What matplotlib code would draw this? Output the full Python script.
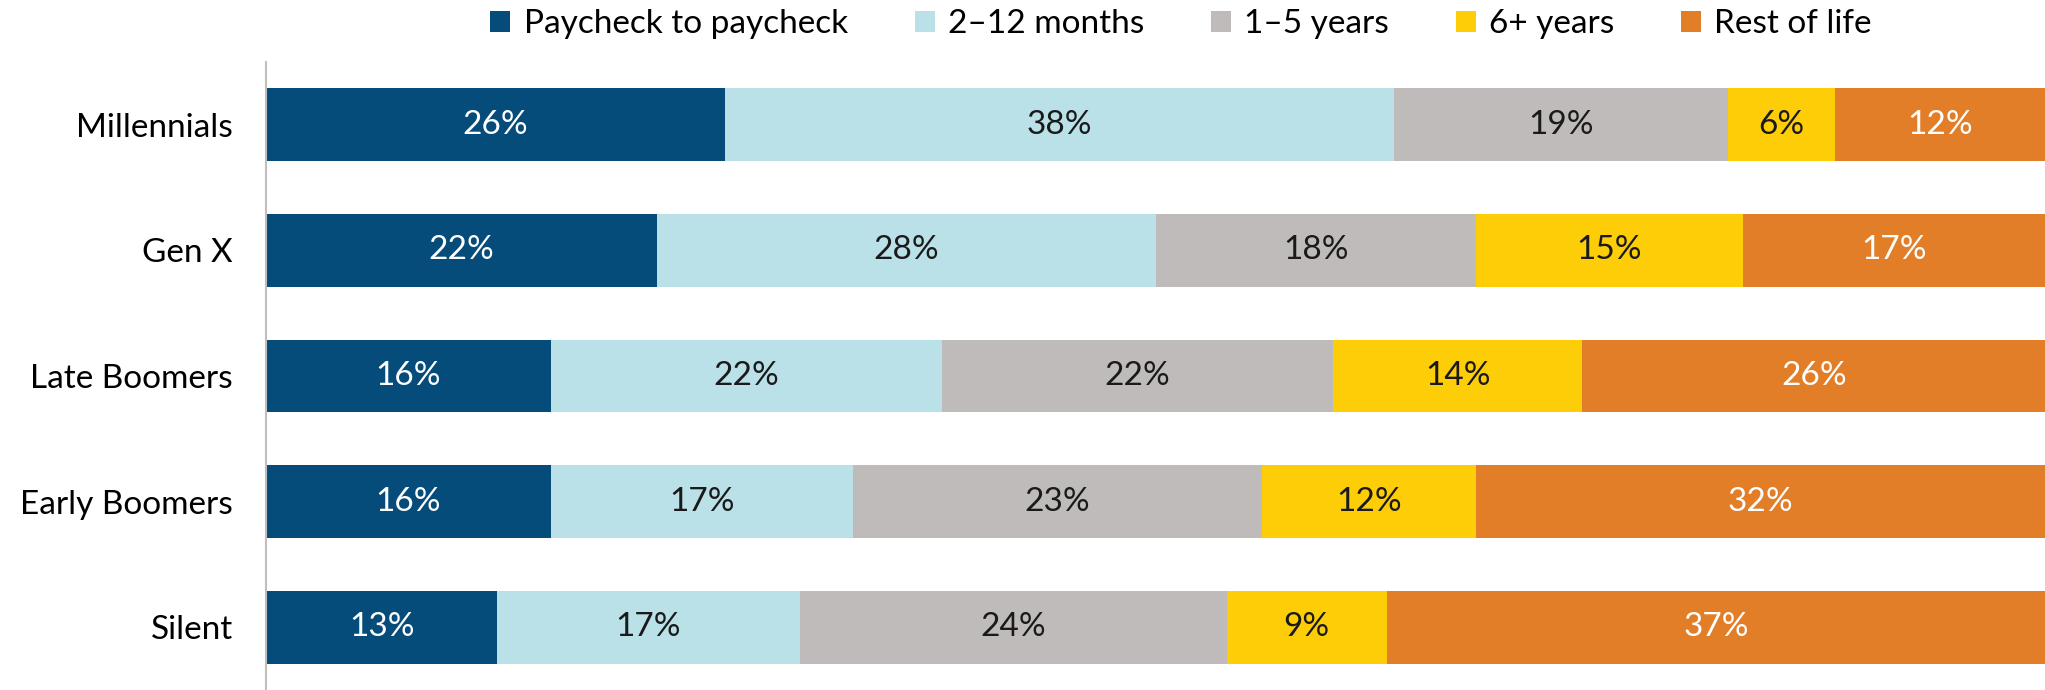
import numpy as np
import matplotlib.pyplot as plt

plt.rcParams['font.family'] = ['Lato', 'DejaVu Sans']

groups = ["Millennials", "Gen X", "Late Boomers", "Early Boomers", "Silent"]
series = ["Paycheck to paycheck", "2\u201312 months", "1\u20135 years", "6+ years", "Rest of life"]

paycheck = [25.8, 22, 16, 16, 13]
months_2_12 = [37.6, 28, 22, 17, 17]
years_1_5 = [18.8, 18, 22, 23, 24]
years_6 = [6.0, 15, 14, 12, 9]
rest_of_life = [11.8, 17, 26, 32, 37]

values = [paycheck, months_2_12, years_1_5, years_6, rest_of_life]
colors = ["#054C7A", "#BAE0E8", "#BFBBBA", "#FDCD08", "#E17E27"]
text_colors = ["white", "#1a1a1a", "#1a1a1a", "#1a1a1a", "white"]

fig = plt.figure(figsize=(20.45, 6.9), dpi=100)
ax = fig.add_axes([266 / 2045, 0.0, 1 - 266 / 2045, 1 - 62 / 690])

y = np.arange(len(groups))
left = np.zeros(len(groups))
for vals, name, col, tcol in zip(values, series, colors, text_colors):
    vals = np.array(vals, dtype=float)
    ax.barh(y, vals, left=left, height=0.58, color=col, label=name)
    for yi, l, v in zip(y, left, vals):
        ax.text(l + v / 2, yi, f"{v:.0f}%", ha="center", va="center",
                color=tcol, fontsize=24)
    left += vals

ax.set_xlim(0, 100)
ax.set_ylim(len(groups) - 0.5, -0.5)
ax.set_yticks(y)
ax.set_yticklabels(groups, fontsize=24)
ax.tick_params(axis="y", length=0, pad=24)
ax.set_xticks([])
for s in ["top", "right", "bottom"]:
    ax.spines[s].set_visible(False)
ax.spines["left"].set_color("#BFBFBF")
ax.spines["left"].set_linewidth(1.5)

fig.legend(loc="center", bbox_to_anchor=(1181 / 2045, 1 - 24 / 690), ncol=5,
           frameon=False, fontsize=24, handlelength=0.6, handleheight=0.6,
           handletextpad=0.4, columnspacing=2.0)

fig.savefig("out.png", dpi=100)
